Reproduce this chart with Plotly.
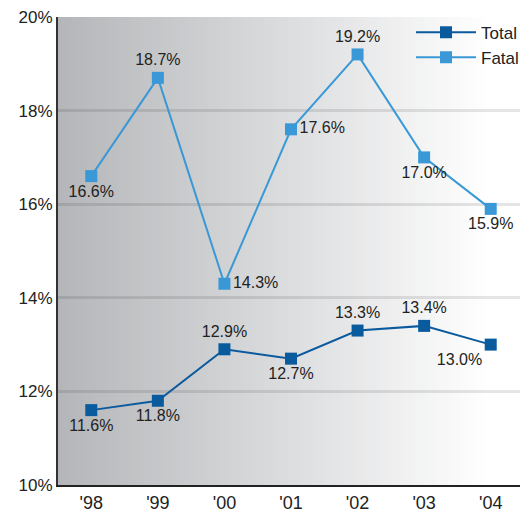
import plotly.graph_objects as go

years = ["'98", "'99", "'00", "'01", "'02", "'03", "'04"]
total = [11.6, 11.8, 12.9, 12.7, 13.3, 13.4, 13.0]
fatal = [16.6, 18.7, 14.3, 17.6, 19.2, 17.0, 15.9]
total_pos = ["bottom center", "bottom center", "top center", "bottom center", "top center", "top center", "bottom left"]
fatal_pos = ["bottom center", "top center", "middle right", "middle right", "top center", "bottom center", "bottom center"]

FONT = "Liberation Sans, Arial, Helvetica, sans-serif"
C_TOTAL = "#0a5a9e"
C_FATAL = "#3a98d6"

fig = go.Figure()
fig.add_trace(go.Scatter(
    x=years, y=total, name="Total", mode="lines+markers+text",
    line=dict(color=C_TOTAL, width=2),
    marker=dict(symbol="square", size=12, color=C_TOTAL),
    text=[f"{v:.1f}%" for v in total], textposition=total_pos,
    textfont=dict(size=16, color="#222", family=FONT),
))
fig.add_trace(go.Scatter(
    x=years, y=fatal, name="Fatal", mode="lines+markers+text",
    line=dict(color=C_FATAL, width=2),
    marker=dict(symbol="square", size=12, color=C_FATAL),
    text=[f"{v:.1f}%" for v in fatal], textposition=fatal_pos,
    textfont=dict(size=16, color="#222", family=FONT),
))

# gradient background
shapes = []
N = 120
c0 = (180, 182, 185)
for i in range(N):
    t = i / (N - 1)
    f = min(1.0, t / 0.93)
    r, g, b = [int(round(c + (255 - c) * f)) for c in c0]
    shapes.append(dict(type="rect", xref="paper", yref="paper",
                       x0=i / N, x1=(i + 1) / N + 0.002, y0=0, y1=1,
                       fillcolor=f"rgb({r},{g},{b})", line=dict(width=0), layer="below"))

# page body has an 8px margin, so the figure is 8px smaller and margins are shifted
fig.update_layout(
    width=520, height=503,
    margin=dict(l=50, r=4, t=9, b=26, autoexpand=False),
    paper_bgcolor="white", plot_bgcolor="white",
    shapes=shapes,
    font=dict(family=FONT, size=17, color="#222"),
    showlegend=True,
    legend=dict(x=1, xanchor="right", y=1.005, yanchor="top", bgcolor="rgba(0,0,0,0)",
                font=dict(size=17, family=FONT, color="#222"), itemwidth=60,
                tracegroupgap=0, traceorder="normal"),
    xaxis=dict(range=[-0.5, 6.5], showgrid=False, showline=True, linecolor="#222", linewidth=2,
               ticks="", tickfont=dict(size=18), zeroline=False, automargin=False,
               ticklabeloverflow="allow"),
    yaxis=dict(range=[10, 20], dtick=2, ticksuffix="%", showgrid=True,
               gridcolor="rgba(0,0,0,0.1)", gridwidth=3, showline=True, linecolor="#333",
               linewidth=2, ticks="", tickfont=dict(size=17), zeroline=False, automargin=False,
               ticklabeloverflow="allow"),
)
fig.write_html("out.html")
